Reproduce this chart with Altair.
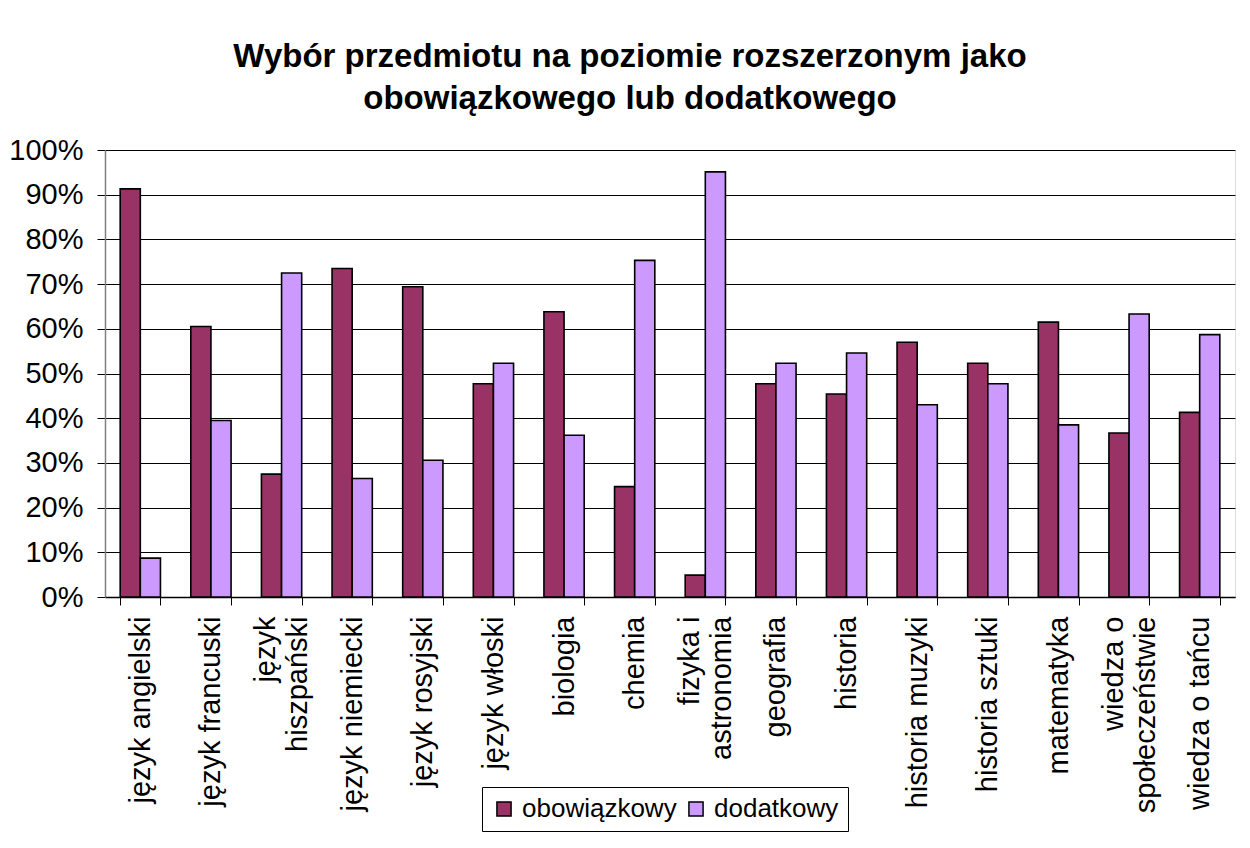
import altair as alt
import pandas as pd

categories = [
    "język angielski", "język francuski", "język\nhiszpański", "język niemiecki",
    "język rosyjski", "język włoski", "biologia", "chemia", "fizyka i\nastronomia",
    "geografia", "historia", "historia muzyki", "historia sztuki", "matematyka",
    "wiedza o\nspołeczeństwie", "wiedza o tańcu",
]
series = ["obowiązkowy", "dodatkowy"]
obowiazkowy = [91.3, 60.5, 27.5, 73.5, 69.4, 47.7, 63.8, 24.7, 4.9, 47.7, 45.4, 57.0, 52.3, 61.5, 36.7, 41.3]
dodatkowy = [8.7, 39.5, 72.5, 26.5, 30.6, 52.3, 36.2, 75.3, 95.1, 52.3, 54.6, 43.0, 47.7, 38.5, 63.3, 58.7]
y_ticks = [0, 10, 20, 30, 40, 50, 60, 70, 80, 90, 100]
colors = ["#993366", "#CC99FF"]

rows = []
for c, a, b in zip(categories, obowiazkowy, dodatkowy):
    rows.append({"przedmiot": c, "seria": series[0], "wartosc": a})
    rows.append({"przedmiot": c, "seria": series[1], "wartosc": b})
df = pd.DataFrame(rows)

FONT = "Liberation Sans"

chart = alt.Chart(df).mark_bar(stroke="black", strokeWidth=1.6).encode(
    x=alt.X(
        "przedmiot:N", sort=categories,
        scale=alt.Scale(paddingInner=0.43, paddingOuter=0.215),
        axis=alt.Axis(
            title=None, labelAngle=270, labelAlign="right", labelBaseline="middle",
            labelFontSize=29, labelFont=FONT, labelColor="black", labelPadding=11,
            labelExpr="split(datum.label, '\\n')", labelLimit=400, labelLineHeight=32,
            labelOffset={"condition": {"test": "indexof(datum.label, '\\n') >= 0", "value": -16}, "value": 0},
            tickBand="extent", tickSize=8, tickColor="black", tickWidth=1,
            domainColor="black", domainWidth=1.5, labelOverlap=False,
        ),
    ),
    xOffset=alt.XOffset("seria:N", sort=series, scale=alt.Scale(paddingInner=0, paddingOuter=0)),
    y=alt.Y(
        "wartosc:Q", scale=alt.Scale(domain=[0, 100]),
        axis=alt.Axis(
            title=None, values=y_ticks, labelExpr="datum.value + '%'",
            labelFontSize=29, labelFont=FONT, labelColor="black", labelPadding=14,
            tickSize=8, tickColor="black", domainColor="#808080", domainWidth=1.5,
            grid=True, gridColor="black", gridWidth=1,
        ),
    ),
    color=alt.Color(
        "seria:N", sort=series,
        scale=alt.Scale(domain=series, range=colors),
        legend=alt.Legend(
            title=None, orient="none", legendX=377, legendY=637, direction="horizontal",
            strokeColor="black", fillColor="white", padding=9,
            symbolType="square", symbolSize=200, symbolStrokeColor="black",
            symbolStrokeWidth=1.5, symbolOpacity=1,
            labelFontSize=26, labelFont=FONT, labelColor="black", columnPadding=6,
            labelOffset=5,
        ),
    ),
).properties(
    width=1130, height=447,
    title=alt.TitleParams(
        text=["Wybór przedmiotu na poziomie rozszerzonym jako", "obowiązkowego lub dodatkowego"],
        font=FONT, fontSize=33, fontWeight="bold", color="black",
        anchor="middle", dx=-40, offset=20, lineHeight=42,
    ),
    autosize=alt.AutoSizeParams(type="none"),
    padding={"left": 97, "top": 142, "right": 7, "bottom": 243},
).configure_view(
    fill="#FFFFCC", stroke="#808080", strokeWidth=2,
).configure(background="white")

chart.save("out.html", embed_options={"renderer": "svg", "actions": False})
